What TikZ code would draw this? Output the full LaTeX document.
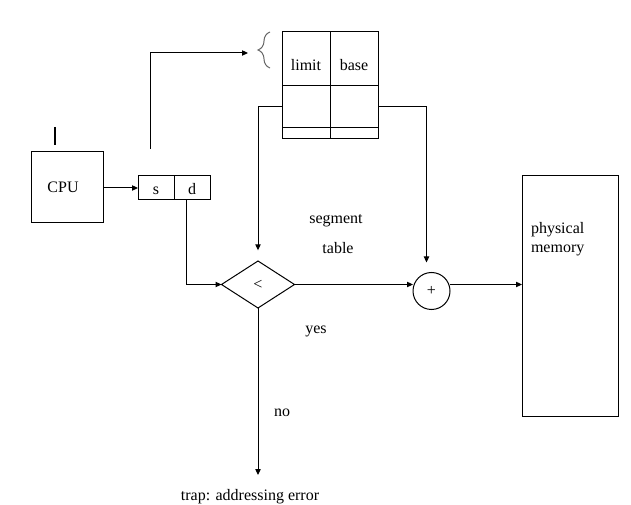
\documentclass[tikz,border=0pt]{standalone}
\usepackage{fontspec}
\setmainfont{Liberation Serif}
\usetikzlibrary{positioning, arrows.meta, shapes.geometric, decorations.pathreplacing}

\begin{document}
\begin{tikzpicture}[
    x=0.75pt, y=-0.75pt,
    line width=0.75pt,
    every node/.style={font=\fontsize{12}{14.25}\selectfont, inner sep=0pt, outer sep=0pt},
    box/.style={draw, rectangle},
    cell/.style={draw, rectangle, minimum width=36pt},
    field/.style={draw, rectangle, minimum width=27pt, text height=14.25pt, text depth=3.75pt},
    >={Triangle[length=4.5pt,width=4pt]}
]
\useasboundingbox (0,0) rectangle (631,505);

\node[box, minimum width=54pt, minimum height=53.25pt] (cpu) at (67,187.5) {\hspace*{-6pt}CPU};
\node[field] (s) at (156,188) {s};
\node[field, right=0pt of s] (d) {d};
\draw[line width=1.5pt] (55,127) -- (55,145);

% segment table
\node[cell, text height=29.25pt, text depth=11.25pt] (lim) at (306,59) {limit};
\node[cell, text height=29.25pt, text depth=11.25pt, right=0pt of lim] (bas) {base};
\node[cell, minimum height=31.5pt, below=0pt of lim] (lim2) {};
\node[cell, minimum height=31.5pt, right=0pt of lim2] (bas2) {};
\node[cell, minimum height=8.25pt, below=0pt of lim2] (lim3) {};
\node[cell, minimum height=8.25pt, right=0pt of lim3] (bas3) {};
\draw[gray!80!black, decorate, decoration={brace, amplitude=9pt}] (270,68) -- (270,32);

\node[draw, diamond, aspect=1.55, minimum width=54.75pt, minimum height=35.25pt] (lt) at (258,284.5) {<};
\node[draw, circle, minimum size=27.75pt] (plus) at (431.5,291) {+};
\node[box, minimum width=72pt, minimum height=180pt] (mem) at (570,296) {};
\node[anchor=north west, align=left] (memtxt) at (531,222) {physical\\memory};

\node (seg) at (336,221) {segment};
\node (tbl) at (338,248) {table};
\node (yes) at (316,331) {yes};
\node (no) at (282,413) {no};
\node (trap) at (250,497) {trap: addressing error};

\coordinate (sdtop) at (150,149);
\coordinate (brtip) at (248,53);

\draw[->] (cpu.east |- s) -- (s);
\draw[->] (sdtop) |- (brtip);
\draw[->, shorten >=8pt] (lim2.west) -| (lt.north);
\draw[->, shorten >=7.5pt] (bas2.east) -| ([xshift=-3.75pt]plus.north);
\draw[->] ([xshift=-4pt]d.south) |- (lt.west);
\draw[->] (lt.east) -- (lt.east -| plus.west);
\draw[->] (plus.east |- lt.east) -- (mem.west |- lt.east);
\draw[->] (lt.south) -- ([yshift=11pt]lt.south |- trap.north);
\end{tikzpicture}
\end{document}
